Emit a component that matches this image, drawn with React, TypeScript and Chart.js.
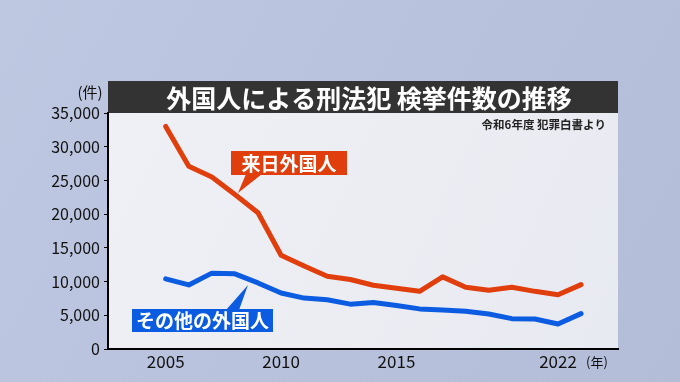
import React, { useEffect, useRef } from "react";
import { Chart, registerables } from "chart.js";

Chart.register(...registerables);

const years = [2005, 2006, 2007, 2008, 2009, 2010, 2011, 2012, 2013, 2014, 2015, 2016, 2017, 2018, 2019, 2020, 2021, 2022, 2023];
const visitorCrimes = [33000, 27100, 25500, 22900, 20200, 13900, 12300, 10800, 10300, 9450, 9000, 8550, 10700, 9150, 8700, 9150, 8550, 8050, 9550];
const otherCrimes = [10400, 9500, 11250, 11150, 9800, 8300, 7550, 7300, 6650, 6900, 6450, 5950, 5800, 5600, 5200, 4500, 4450, 3700, 5250];
const xTickYears = [2005, 2010, 2015, 2022];
const yTicks = [0, 5000, 10000, 15000, 20000, 25000, 30000, 35000];

const TITLE = "外国人による刑法犯 検挙件数の推移";
const SOURCE = "令和6年度 犯罪白書より";
const LABEL_VISITOR = "来日外国人";
const LABEL_OTHER = "その他の外国人";
const Y_UNIT = "(件)";
const X_UNIT = "(年)";

const FONT = '"Noto Sans CJK JP", "Noto Sans", sans-serif';
const RED = "#e03e0c";
const BLUE = "#0b5ce0";

const decorPlugin = {
  id: "decor",
  beforeDraw(chart: any) {
    const { ctx, chartArea: a, width, height } = chart;
    ctx.save();
    const bg = ctx.createLinearGradient(0, 0, width, height);
    bg.addColorStop(0, "#bfc8e1");
    bg.addColorStop(0.5, "#b8c2dd");
    bg.addColorStop(1, "#b3bdd8");
    ctx.fillStyle = bg;
    ctx.fillRect(0, 0, width, height);
    // plot panel
    const pg = ctx.createLinearGradient(a.left, a.top, a.right, a.bottom);
    pg.addColorStop(0, "#eff0f5");
    pg.addColorStop(1, "#e8eaf1");
    ctx.fillStyle = pg;
    ctx.fillRect(a.left, a.top, a.right - a.left, a.bottom - a.top);
    // title bar
    ctx.fillStyle = "#333333";
    ctx.fillRect(a.left, 81, a.right - a.left, a.top - 81);
    ctx.fillStyle = "#ffffff";
    ctx.font = `bold 25px ${FONT}`;
    ctx.textAlign = "center";
    ctx.textBaseline = "middle";
    ctx.fillText(TITLE, (a.left + a.right) / 2 + 6, 98);
    // units
    ctx.fillStyle = "#111111";
    ctx.font = `15px ${FONT}`;
    ctx.fillText(Y_UNIT, 90, 92);
    ctx.font = `13px ${FONT}`;
    ctx.fillText(X_UNIT, 597, 362);
    ctx.restore();
  },
  afterDraw(chart: any) {
    const { ctx, chartArea: a } = chart;
    ctx.save();
    // source
    ctx.fillStyle = "#222222";
    ctx.font = `bold 11.5px ${FONT}`;
    ctx.textAlign = "right";
    ctx.textBaseline = "middle";
    ctx.fillText(SOURCE, a.right - 12, 125);

    // red callout
    ctx.fillStyle = RED;
    ctx.fillRect(231, 151, 116, 24);
    ctx.beginPath();
    ctx.moveTo(246, 174);
    ctx.lineTo(262, 174);
    ctx.lineTo(238, 193);
    ctx.closePath();
    ctx.fill();
    ctx.fillStyle = "#ffffff";
    ctx.font = `bold 19px ${FONT}`;
    ctx.textAlign = "center";
    ctx.fillText(LABEL_VISITOR, 289, 163.5);

    // blue callout
    ctx.fillStyle = BLUE;
    ctx.fillRect(132, 309, 141, 23);
    ctx.beginPath();
    ctx.moveTo(226, 310);
    ctx.lineTo(239, 310);
    ctx.lineTo(248, 285);
    ctx.closePath();
    ctx.fill();
    ctx.fillStyle = "#ffffff";
    ctx.font = `bold 19px ${FONT}`;
    ctx.fillText(LABEL_OTHER, 202.5, 321);
    ctx.restore();
  },
};

export default function App() {
  const ref = useRef<HTMLCanvasElement | null>(null);
  useEffect(() => {
    document.body.style.margin = "0";
    const chart = new Chart(ref.current as HTMLCanvasElement, {
      type: "line",
      data: {
        datasets: [
          {
            label: LABEL_VISITOR,
            data: years.map((y, i) => ({ x: y, y: visitorCrimes[i] })),
            borderColor: RED,
            borderWidth: 5,
            pointRadius: 0,
            tension: 0,
            borderJoinStyle: "round",
            borderCapStyle: "round",
          },
          {
            label: LABEL_OTHER,
            data: years.map((y, i) => ({ x: y, y: otherCrimes[i] })),
            borderColor: BLUE,
            borderWidth: 5,
            pointRadius: 0,
            tension: 0,
            borderJoinStyle: "round",
            borderCapStyle: "round",
          },
        ],
      },
      plugins: [decorPlugin],
      options: {
        responsive: false,
        animation: false,
        layout: { padding: { top: 113, right: 62, left: 0, bottom: 0 } },
        plugins: { legend: { display: false }, tooltip: { enabled: false } },
        scales: {
          x: {
            type: "linear",
            min: 2002.5,
            max: 2024.6,
            afterBuildTicks: (s: any) => {
              s.ticks = xTickYears.map((v) => ({ value: v }));
            },
            afterFit: (s: any) => {
              s.height = 33;
            },
            ticks: {
              callback: (v: any) => String(v),
              font: { family: FONT, size: 17 },
              color: "#111111",
              padding: 2,
              maxRotation: 0,
              autoSkip: false,
            },
            grid: { display: false, drawTicks: false },
            border: { display: true, color: "#000000", width: 2 },
          },
          y: {
            min: 0,
            max: 35000,
            afterBuildTicks: (s: any) => {
              s.ticks = yTicks.map((v) => ({ value: v }));
            },
            afterFit: (s: any) => {
              s.width = 108;
            },
            ticks: {
              callback: (v: any) => Number(v).toLocaleString("en-US"),
              font: { family: FONT, size: 16 },
              color: "#111111",
              padding: 4,
            },
            grid: {
              display: true,
              drawOnChartArea: false,
              drawTicks: true,
              tickLength: 4,
              color: "#000000",
              lineWidth: 1,
            },
            border: { display: true, color: "#000000", width: 2 },
          },
        },
      },
    } as any);
    return () => chart.destroy();
  }, []);
  return (
    <div style={{ position: "fixed", left: 0, top: 0, width: 680, height: 382 }}>
      <canvas ref={ref} width={680} height={382} style={{ width: 680, height: 382, display: "block" }} />
    </div>
  );
}
